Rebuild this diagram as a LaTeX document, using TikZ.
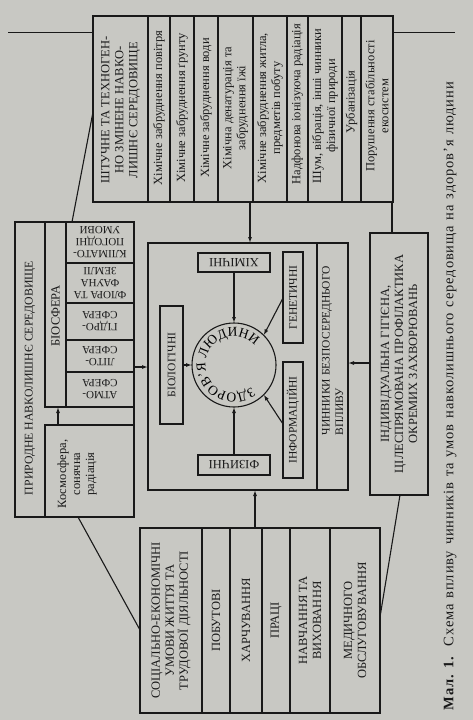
\documentclass[tikz,border=0pt]{standalone}
\usepackage{fontspec}
\setmainfont{Liberation Serif}
\usetikzlibrary{arrows.meta,decorations.text,fit}

\definecolor{papir}{RGB}{200,200,195}
\definecolor{chorn}{RGB}{25,25,25}

\begin{document}
\begin{tikzpicture}[x=1pt, y=1pt, >={Latex[length=6pt,width=4pt]},
	line width=1.1pt, color=chorn,
	ramka/.style = {draw=chorn, fill=papir, inner sep=0pt, outer sep=0pt},
	vert/.style  = {rotate=90, align=center, inner sep=0pt,
		font=\fontsize{12.5}{14}\selectfont},
	pere/.style  = {rotate=180, align=center, inner sep=0pt,
		font=\fontsize{11}{12}\selectfont},
	]
	
	%% ── Сторінка ─────────────────────────────────────────────────────────────
	\fill[papir] (0,0) rectangle (473,-720);
	\useasboundingbox (0,0) rectangle (473,-720);
	\draw[line width=0.7pt] (8,-32) -- (455,-32);
	
	%% ── Штучне середовище (угорі) ────────────────────────────────────────────
	\node[ramka, fit={(93,-16) (393,-202)}] (tech) {};
	\foreach \x in {148,170,194,218,253,287,308,342,361}
	\draw (\x,-16) -- (\x,-202);
	\node[vert] (tHead)  at (120.5,-110) {ШТУЧНЕ ТА ТЕХНОГЕН-\\НО ЗМІНЕНЕ НАВКО-\\ЛИШНЄ СЕРЕДОВИЩЕ};
	\node[vert] (tAir)   at (159,-108)   {Хімічне забруднення повітря};
	\node[vert] (tSoil)  at (182,-108)   {Хімічне забруднення ґрунту};
	\node[vert] (tWater) at (206,-108)   {Хімічне забруднення води};
	\node[vert] (tFood)  at (235.5,-108) {Хімічна денатурація та\\забруднення їжі};
	\node[vert] (tHome)  at (270,-108)   {Хімічне забруднення житла,\\предметів побуту};
	\node[vert] (tRad)   at (297.5,-104) {Надфонова іонізуюча радіація};
	\node[vert] (tNoise) at (325,-106)   {Шум, вібрація, інші чинники\\фізичної природи};
	\node[vert] (tUrb)   at (351.5,-102) {Урбанізація};
	\node[vert] (tEco)   at (377,-106)   {Порушення стабільності\\екосистем};
	
	%% ── Природне середовище (ліворуч) ────────────────────────────────────────
	\node[ramka, fit={(15,-222) (134,-517)}] (nat) {};
	\node[ramka, fit={(45,-222) (134,-407)}] (bio) {};
	\node[ramka, fit={(45,-425) (134,-517)}] (kosm) {};
	\draw (66,-222) -- (66,-407);
	\foreach \y in {263,303,340,372}
	\draw (66,-\y) -- (134,-\y);
	\node[vert, font=\fontsize{11.8}{13}\selectfont] (natT) at (30,-378) {ПРИРОДНЕ НАВКОЛИШНЄ СЕРЕДОВИЩЕ};
	\node[vert] (bioT)  at (55.5,-316) {БІОСФЕРА};
	\node[pere] (klim)  at (100,-242.5) {КЛІМАТО-\\ПОГОДНІ\\УМОВИ};
	\node[pere] (flora) at (100,-283)   {ФЛОРА ТА\\ФАУНА\\ЗЕМЛІ};
	\node[pere] (gidro) at (100,-321.5) {ГІДРО-\\СФЕРА};
	\node[pere] (lito)  at (100,-356)   {ЛІТО-\\СФЕРА};
	\node[pere] (atmo)  at (100,-389.5) {АТМО-\\СФЕРА};
	\node[vert] (kosmT) at (77,-474)   {Космосфера,\\сонячна\\радіація};
	
	%% ── Чинники безпосереднього впливу (центр) ───────────────────────────────
	\node[ramka, fit={(148,-243) (348,-490)}] (bezp) {};
	\draw (317,-243) -- (317,-490);
	\node[vert, align=left, anchor=west, font=\fontsize{11.5}{13.5}\selectfont] (bezpT)
	at (332.5,-436) {ЧИННИКИ БЕЗПОСЕРЕДНЬОГО\\ВПЛИВУ};
	
	\node[ramka, fit={(198,-253) (270,-272)}] (khim) {};
	\node[ramka, fit={(283,-252) (303,-343)}] (gen) {};
	\node[ramka, fit={(283,-362) (303,-478)}] (inf) {};
	\node[ramka, fit={(160,-306) (183,-424)}] (biol) {};
	\node[ramka, fit={(198,-455) (270,-475)}] (fiz) {};
	\node[pere, font=\fontsize{12.5}{13}\selectfont] (khimT) at (khim) {ХІМІЧНІ};
	\node[pere, font=\fontsize{12.5}{13}\selectfont] (fizT)  at (fiz)  {ФІЗИЧНІ};
	\node[vert, font=\fontsize{11.5}{12}\selectfont] (genT)  at (gen)  {ГЕНЕТИЧНІ};
	\node[vert, font=\fontsize{11.5}{12}\selectfont] (infT)  at (inf)  {ІНФОРМАЦІЙНІ};
	\node[vert, font=\fontsize{11.5}{12}\selectfont] (biolT) at (biol) {БІОЛОГІЧНІ};
	
	%% здоров'я людини
	\node[circle, draw, inner sep=0pt, outer sep=0pt, minimum size=84pt] (zdorov) at (234,-365) {};
	\path[decorate, decoration={text along path, text align={fit to path},
		text={|\fontsize{13.5}{13.5}\selectfont|ЗДОРОВ’Я ЛЮДИНИ}}]
	(zdorov.center) ++(-52:28.5) arc[start angle=-52, end angle=-317, radius=28.5];
	
	\draw[->] (khim.south) -- (zdorov.north);
	\draw[->] (fiz.north) -- (zdorov.south);
	\draw[->] (biol.east) -- (zdorov.west);
	\draw[->] (gen.west |- 0,-298) -- (zdorov.45);
	\draw[->] (inf.west |- 0,-424) -- (zdorov.-45);
	
	%% ── Індивідуальна гігієна (праворуч) ─────────────────────────────────────
	\node[ramka, fit={(370,-233) (428,-495)}] (hyg) {};
	\node[vert] (hygT) at (399,-364) {ІНДИВІДУАЛЬНА ГІГІЄНА,\\ЦІЛЕСПРЯМОВАНА ПРОФІЛАКТИКА\\ОКРЕМИХ ЗАХВОРЮВАНЬ};
	
	%% ── Соціально-економічні умови (внизу) ───────────────────────────────────
	\node[ramka, fit={(140,-528) (380,-713)}] (soc) {};
	\foreach \x in {202,230,262,290,330}
	\draw (\x,-528) -- (\x,-713);
	\node[vert] (sHead) at (171,-620.5) {СОЦІАЛЬНО-ЕКОНОМІЧНІ\\УМОВИ ЖИТТЯ ТА\\ТРУДОВОЇ ДІЯЛЬНОСТІ};
	\node[vert] (sPob)  at (216,-620.5) {ПОБУТОВІ};
	\node[vert] (sKhar) at (246,-620.5) {ХАРЧУВАННЯ};
	\node[vert] (sPrac) at (276,-620.5) {ПРАЦІ};
	\node[vert] (sNavch) at (310,-620.5) {НАВЧАННЯ ТА\\ВИХОВАННЯ};
	\node[vert] (sMed)  at (355,-620.5) {МЕДИЧНОГО\\ОБСЛУГОВУВАННЯ};
	
	%% ── Зв'язки ──────────────────────────────────────────────────────────────
	\draw[->] (tech.south -| 250,0) -- (bezp.north -| 250,0);
	\draw[->] (soc.north -| 255,0) -- (bezp.south -| 255,0);
	\draw[->] (nat.east |- 0,-367) -- (bezp.west |- 0,-367);
	\draw[->] (hyg.west |- 0,-363) -- (bezp.east |- 0,-363);
	\draw[->] (kosm.north -| 58,0) -- (bio.south -| 58,0);
	\draw (bio.north -| 72,0) -- (tech.west |- 0,-112);
	\draw (kosm.south -| 78,0) -- (soc.west |- 0,-630);
	\draw (tech.south -| 392,0) -- (hyg.north -| 392,0);
	\draw (hyg.south -| 400,0) -- (soc.east |- 0,-617);
	
	%% ── Підпис ───────────────────────────────────────────────────────────────
	\node[rotate=90, inner sep=0pt, font=\fontsize{14.5}{15}\selectfont\addfontfeature{LetterSpace=6}] (pidpys) at (450,-396)
	{\makebox[628pt][s]{\textbf{Мал.~1.} Схема впливу чинників та умов навколишнього середовища на здоров’я людини}};
	
\end{tikzpicture}
\end{document}
